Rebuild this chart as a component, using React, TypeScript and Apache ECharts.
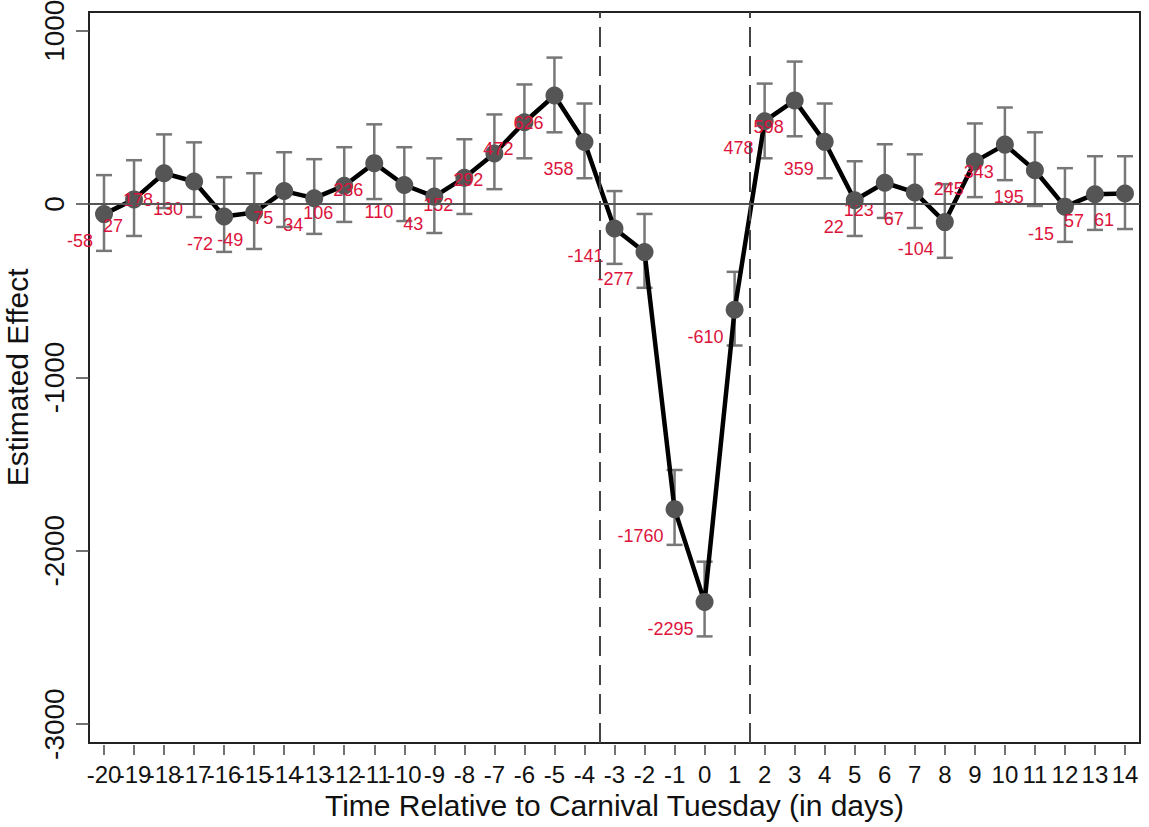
import React, { useEffect, useRef } from "react";
import * as echarts from "echarts";

const days = [-20, -19, -18, -17, -16, -15, -14, -13, -12, -11, -10, -9, -8, -7, -6, -5, -4, -3, -2, -1, 0, 1, 2, 3, 4, 5, 6, 7, 8, 9, 10, 11, 12, 13, 14];
const estimates = [-58, 27, 178, 130, -72, -49, 75, 34, 106, 236, 110, 43, 152, 292, 472, 626, 358, -141, -277, -1760, -2295, -610, 478, 598, 359, 22, 123, 67, -104, 245, 343, 195, -15, 57, 61];
const lower = [-270, -184, -23, -75, -276, -259, -132, -172, -103, 29, -98, -167, -57, 86, 264, 414, 149, -345, -483, -1966, -2494, -816, 264, 391, 149, -184, -80, -138, -310, 40, 138, -11, -218, -149, -144];
const upper = [167, 253, 402, 356, 155, 178, 299, 259, 328, 460, 328, 264, 374, 517, 690, 845, 580, 75, -57, -1534, -2063, -391, 695, 822, 580, 247, 345, 287, 115, 465, 557, 414, 207, 276, 276];
const yTickMin = -3000;
const yTickMax = 1000;
const yTickStep = 1000;
const cutoffs = [-3.5, 1.5];
const zeroLine = 0;

const FONT = "'Liberation Sans', Arial, sans-serif";

// plot box layout
const BOX_LEFT = 89;
const BOX_TOP = 12;
const BOX_H = 731;
const Y_MIN = -3109;
const Y_MAX = 1108;

export default function App() {
  const ref = useRef<HTMLDivElement>(null);
  useEffect(() => {
    if (!ref.current) return;
    const chart = echarts.init(ref.current, null, { renderer: "svg" });
    const lineData = days.map((d, i) => [d, estimates[i]]);
    const barData = days.map((d, i) => [d, lower[i], upper[i]]);
    const pxPerUnit = BOX_H / (Y_MAX - Y_MIN);
    const tickTop = BOX_TOP + (Y_MAX - yTickMax) * pxPerUnit;
    const tickH = (yTickMax - yTickMin) * pxPerUnit;
    chart.setOption({
      animation: false,
      backgroundColor: "#ffffff",
      grid: [
        {
          left: BOX_LEFT,
          right: 9,
          top: BOX_TOP,
          height: BOX_H,
          show: true,
          borderColor: "#222",
          borderWidth: 2,
          backgroundColor: "transparent",
          containLabel: false,
          outerBoundsMode: "none",
        },
        { left: BOX_LEFT, right: 9, top: tickTop, height: tickH, show: false, containLabel: false, outerBoundsMode: "none" },
      ],
      xAxis: [
        {
          type: "value",
          gridIndex: 0,
          position: "bottom",
          min: days[0] - 0.5,
          max: days[days.length - 1] + 0.5,
          show: false,
        },
        {
          type: "category",
          gridIndex: 0,
          position: "bottom",
          data: days.map(String),
          boundaryGap: true,
          offset: 2,
          axisLine: { show: false },
          splitLine: { show: false },
          axisTick: { show: true, alignWithLabel: true, interval: 0, length: 10, lineStyle: { color: "#444", width: 1.5 } },
          axisLabel: { interval: 0, margin: 17, fontSize: 24, fontFamily: FONT, color: "#111", hideOverlap: false },
          name: "Time Relative to Carnival Tuesday (in days)",
          nameLocation: "middle",
          nameGap: 42,
          nameTextStyle: { fontSize: 30, fontFamily: FONT, color: "#111" },
        },
        { type: "value", gridIndex: 1, position: "bottom", show: false, min: 0, max: 1 },
      ],
      yAxis: [
        { type: "value", gridIndex: 0, position: "right", min: Y_MIN, max: Y_MAX, show: false },
        {
          type: "value",
          gridIndex: 1,
          position: "left",
          min: yTickMin,
          max: yTickMax,
          interval: yTickStep,
          splitLine: { show: false },
          axisLine: { show: false },
          axisTick: { show: true, length: 13, lineStyle: { color: "#444", width: 1.5 } },
          axisLabel: {
            rotate: 90,
            margin: 21,
            fontSize: 28,
            fontFamily: FONT,
            color: "#111",
            formatter: (v: number) => String(v),
          },
          name: "Estimated Effect",
          nameLocation: "middle",
          nameGap: 53,
          nameRotate: 90,
          nameTextStyle: { fontSize: 30, fontFamily: FONT, color: "#111" },
        },
      ],
      series: [
        {
          type: "line",
          xAxisIndex: 0,
          yAxisIndex: 0,
          data: [],
          silent: true,
          z: 1,
          markLine: {
            silent: true,
            symbol: "none",
            label: { show: false },
            data: [
              { yAxis: zeroLine, lineStyle: { color: "#555", width: 2, type: "solid" } },
              ...cutoffs.map((c) => ({ xAxis: c, lineStyle: { color: "#444", width: 2, type: [20, 9] } })),
            ],
          },
        },
        {
          type: "custom",
          xAxisIndex: 0,
          yAxisIndex: 0,
          z: 2,
          data: barData,
          renderItem: (params: any, api: any) => {
            const x = api.value(0);
            const lo = api.coord([x, api.value(1)]);
            const hi = api.coord([x, api.value(2)]);
            const hw = 8;
            const st = { stroke: "#777", lineWidth: 2.5 };
            return {
              type: "group",
              children: [
                { type: "line", shape: { x1: lo[0], y1: lo[1], x2: hi[0], y2: hi[1] }, style: st },
                { type: "line", shape: { x1: lo[0] - hw, y1: lo[1], x2: lo[0] + hw, y2: lo[1] }, style: st },
                { type: "line", shape: { x1: hi[0] - hw, y1: hi[1], x2: hi[0] + hw, y2: hi[1] }, style: st },
              ],
            };
          },
        },
        {
          type: "line",
          xAxisIndex: 0,
          yAxisIndex: 0,
          z: 3,
          data: lineData,
          symbol: "circle",
          symbolSize: 18,
          showAllSymbol: true,
          lineStyle: { color: "#000", width: 4.5 },
          itemStyle: { color: "#555", borderWidth: 0 },
          label: {
            show: true,
            position: "inside",
            align: "right",
            verticalAlign: "middle",
            offset: [-11, 27],
            fontSize: 18,
            fontFamily: FONT,
            color: "#DC143C",
            formatter: (p: any) => String(p.value[1]),
          },
        },
      ],
    });
    return () => chart.dispose();
  }, []);
  return <div ref={ref} style={{ position: "absolute", left: 0, top: 0, width: 1149, height: 827 }} />;
}
